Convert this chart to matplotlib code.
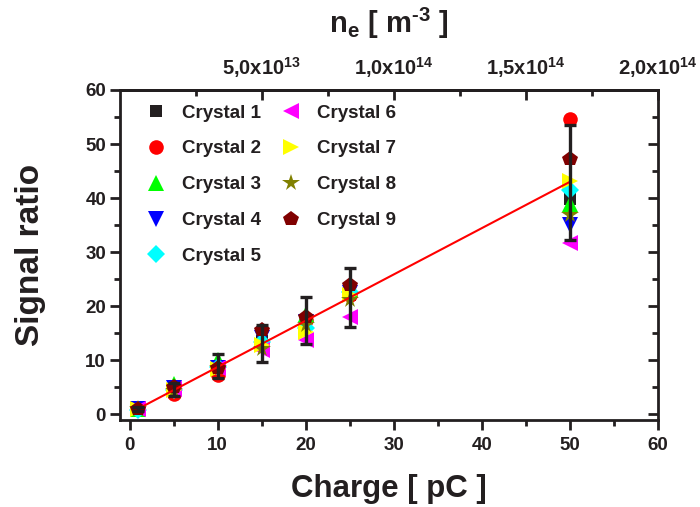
import numpy as np
import matplotlib
matplotlib.use("Agg")
import matplotlib.pyplot as plt
from matplotlib.ticker import MultipleLocator, FixedLocator

plt.rcParams['font.family'] = ['Liberation Sans', 'DejaVu Sans']
plt.rcParams['font.weight'] = 'bold'
plt.rcParams['mathtext.fontset'] = 'custom'
plt.rcParams['mathtext.rm'] = 'Liberation Sans:bold'
plt.rcParams['mathtext.bf'] = 'Liberation Sans:bold'
plt.rcParams['mathtext.it'] = 'Liberation Sans:bold'

# ---- data ----
charge = [1, 5, 10, 15, 20, 25, 50]
crystal_names = ['Crystal 1', 'Crystal 2', 'Crystal 3', 'Crystal 4', 'Crystal 5',
                 'Crystal 6', 'Crystal 7', 'Crystal 8', 'Crystal 9']
crystal1 = [1.0, 4.5, 8.8, 13.5, 17.0, 22.0, 39.9]
crystal2 = [1.0, 3.8, 7.3, 13.0, 17.5, 22.0, 54.6]
crystal3 = [1.0, 5.5, 10.0, 14.0, 18.5, 23.0, 38.9]
crystal4 = [1.0, 4.8, 8.5, 14.0, 17.0, 22.4, 35.0]
crystal5 = [0.8, 4.5, 8.8, 13.4, 16.0, 22.6, 41.4]
crystal6 = [1.0, 4.6, 8.5, 11.8, 13.8, 18.0, 31.6]
crystal7 = [1.0, 4.5, 8.3, 12.8, 15.2, 22.0, 43.1]
crystal8 = [1.0, 4.3, 8.5, 12.0, 16.5, 21.1, 36.9]
crystal9 = [1.0, 5.0, 8.5, 15.5, 18.0, 23.9, 47.2]
crystals = [crystal1, crystal2, crystal3, crystal4, crystal5,
            crystal6, crystal7, crystal8, crystal9]

mean_ratio = [0.95, 4.6, 8.85, 13.1, 17.3, 21.6, 42.9]
mean_err = [0.4, 1.2, 2.2, 3.4, 4.4, 5.4, 10.7]

fit_range = [1, 50]
fit_slope = 0.857
fit_intercept = 0.15

ne_per_pC = 2.0e14 / 60.0
ne_major = [5.0e13, 1.0e14, 1.5e14, 2.0e14]
ne_minor = [2.5e13, 7.5e13, 1.25e14, 1.75e14]
ne_labels = ['5,0x10$^{\\mathregular{13}}$', '1,0x10$^{\\mathregular{14}}$',
             '1,5x10$^{\\mathregular{14}}$', '2,0x10$^{\\mathregular{14}}$']

# ---- styles ----
markers = ['s', 'o', '^', 'v', 'D', '<', '>', '*', 'p']
colors = ['#231f20', '#ff0000', '#00ff00', '#0000ff', '#00ffff',
          '#ff00ff', '#ffff00', '#808000', '#800000']
sizes = [8.5, 10.5, 11, 11, 9, 11, 11, 13, 11.5]
ink = '#231f20'

fig = plt.figure(figsize=(7.0, 5.07), dpi=100)
ax = fig.add_axes([120 / 700, 1 - 420 / 507, 538 / 700, 330 / 507])

for vals, name, m, c, s in zip(crystals, crystal_names, markers, colors, sizes):
    ax.plot(charge, vals, linestyle='none', marker=m, color=c, markersize=s,
            markeredgewidth=0, label=name, zorder=3)

fx = np.array(fit_range, dtype=float)
ax.plot(fx, fit_slope * fx + fit_intercept, color='#ff0000', lw=1.5, zorder=4)

ax.errorbar(charge, mean_ratio, yerr=mean_err, fmt='none', ecolor=ink,
            elinewidth=2.4, capsize=4.2, capthick=2.4, zorder=5)

ax.set_xlim(-1.1, 60)
ax.set_ylim(-1.1, 60)
ax.xaxis.set_major_locator(MultipleLocator(10))
ax.xaxis.set_minor_locator(MultipleLocator(5))
ax.yaxis.set_major_locator(MultipleLocator(10))
ax.yaxis.set_minor_locator(MultipleLocator(5))

for sp in ax.spines.values():
    sp.set_linewidth(2.0)
    sp.set_color(ink)

ax.tick_params(axis='both', which='both', direction='out', width=2.0,
               colors=ink, labelsize=13.5, pad=3)
ax.tick_params(axis='both', which='major', length=7)
ax.tick_params(axis='both', which='minor', length=4)
ax.tick_params(axis='x', which='both', pad=5)

ax.set_xlabel('Charge [ pC ]', fontsize=22.5, fontweight='bold', color=ink)
ax.set_ylabel('Signal ratio', fontsize=24, fontweight='bold', color=ink)
ax.xaxis.set_label_coords(0.5, -0.165)
ax.yaxis.set_label_coords(-0.138, 0.5)

# right-side inward ticks via twin axis
axr = ax.twinx()
axr.set_ylim(ax.get_ylim())
axr.yaxis.set_major_locator(MultipleLocator(10))
axr.yaxis.set_minor_locator(MultipleLocator(5))
axr.tick_params(axis='y', which='both', direction='in', width=2.0, colors=ink,
                labelright=False)
axr.tick_params(axis='y', which='major', length=7)
axr.tick_params(axis='y', which='minor', length=4)
for sp in axr.spines.values():
    sp.set_visible(False)

# top axis
secax = ax.secondary_xaxis('top', functions=(lambda q: q * ne_per_pC,
                                              lambda n: n / ne_per_pC))
secax.xaxis.set_major_locator(FixedLocator(ne_major))
secax.xaxis.set_minor_locator(FixedLocator(ne_minor))
secax.set_xticklabels(ne_labels)
secax.tick_params(axis='x', which='both', direction='in', width=2.0,
                  colors=ink, labelsize=14.5, pad=7)
secax.tick_params(axis='x', which='major', length=7)
secax.tick_params(axis='x', which='minor', length=4)
secax.spines['top'].set_linewidth(2.0)
secax.set_xlabel('n$_{\\mathregular{e}}$ [ m$^{\\text{-3}}$ ]', fontsize=21,
                 fontweight='bold', color=ink)
secax.xaxis.set_label_coords(0.5, 1.172, transform=ax.transAxes)

leg = ax.legend(loc='upper left', bbox_to_anchor=(0.0353, 0.979), ncol=2,
                frameon=False, fontsize=13.5, handletextpad=0.88,
                columnspacing=1.1, labelspacing=1.0, borderaxespad=0.0,
                handlelength=1.0)
for txt in leg.get_texts():
    txt.set_color(ink)

fig.savefig('out.png', dpi=100)
